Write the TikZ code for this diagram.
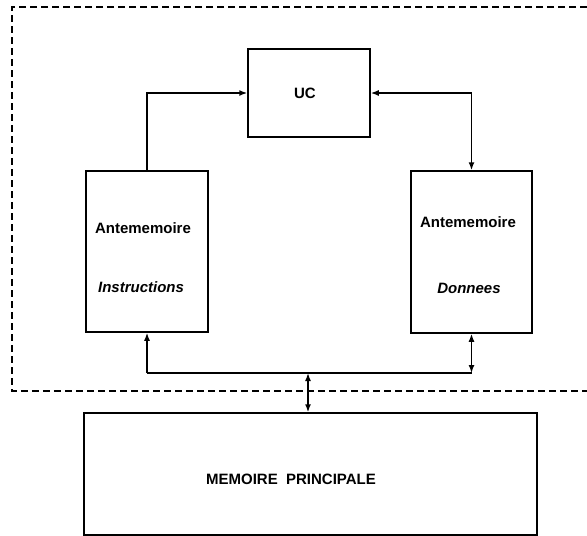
\documentclass[tikz,border=0pt]{standalone}
\usepackage{fontspec}
\setmainfont{Liberation Sans}
\usetikzlibrary{arrows.meta}
\tikzset{
	boite/.style={draw, line width=1.5pt, inner sep=0pt},
	texte/.style={font=\fontsize{15}{18}\selectfont\bfseries, inner sep=0pt},
	lien/.style={line width=1.5pt, >={Latex[length=8pt,width=6pt]}}
}
\begin{document}
\begin{tikzpicture}[x=1pt, y=-1pt]
	\useasboundingbox (0,0) rectangle (587,536);
	% cadre du processeur
	\coordinate (ch) at (587,7);
	\coordinate (cb) at (587,391);
	\draw[line width=1.5pt, dash pattern=on 7pt off 4pt] (ch) -| (12,391) -- (cb);
	\node[boite, minimum width=122pt, minimum height=88pt] (uc) at (309,93){};%UC
	\node[boite, minimum width=122pt, minimum height=161pt] (inst) at (147,251.5){};%instructions
	\node[boite, minimum width=121pt, minimum height=162pt] (don) at (471.5,252){};%donnees
	\node[boite, minimum width=453pt, minimum height=122pt] (mp) at (310.5,474){};%memoire
	\node[texte] (tuc) at (305,93){UC};
	\node[texte] (ti1) at (143,228){Antememoire};
	\node[texte] (ti2) at (141,287){\itshape Instructions};
	\node[texte] (td1) at (468,222){Antememoire};
	\node[texte] (td2) at (469,288){\itshape Donnees};
	\node[texte] (tmp) at (291,479){MEMOIRE\ \ PRINCIPALE};
	% liaisons
	\coordinate (bus) at (308,373);
	\draw[lien, ->] (inst.north) |- (uc.west);
	\draw[lien, <->] (uc.east) -| (don.north);
	\draw[lien, ->] (inst.south |- bus) -- (inst.south);
	\draw[lien] (inst.south |- bus) -- (don.south |- bus);
	\draw[lien, <->] (don.south) -- (don.south |- bus);
	\draw[lien, <->] (bus) -- (bus |- mp.north);
\end{tikzpicture}
\end{document}
